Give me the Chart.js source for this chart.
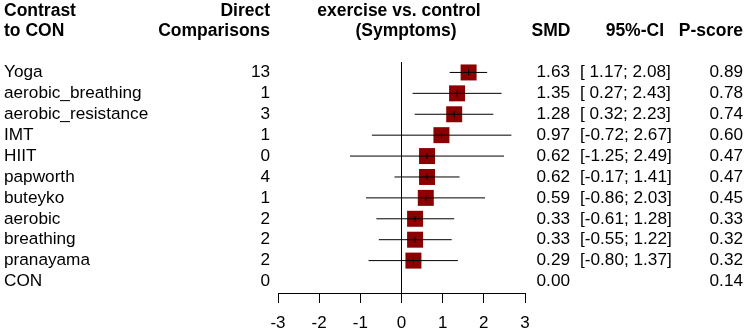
<!DOCTYPE html>
<html>
<head>
<meta charset="utf-8">
<script src="https://cdn.jsdelivr.net/npm/chart.js@4/dist/chart.umd.min.js"></script>
<style>
  html, body { margin: 0; padding: 0; background: #fff; }
  #wrap { width: 750px; height: 335px; }
</style>
</head>
<body>
<div id="wrap"><canvas id="forest"></canvas></div>
<script>
// rows of the forest plot, top to bottom
const treatments = ['Yoga', 'aerobic_breathing', 'aerobic_resistance', 'IMT', 'HIIT',
  'papworth', 'buteyko', 'aerobic', 'breathing', 'pranayama', 'CON'];
const directComparisons = [13, 1, 3, 1, 0, 4, 1, 2, 2, 2, 0];
const smd = [1.63, 1.35, 1.28, 0.97, 0.62, 0.62, 0.59, 0.33, 0.33, 0.29, 0.00];
const lower = [1.17, 0.27, 0.32, -0.72, -1.25, -0.17, -0.86, -0.61, -0.55, -0.80, null];
const upper = [2.08, 2.43, 2.23, 2.67, 2.49, 1.41, 2.03, 1.28, 1.22, 1.37, null];
const pScore = [0.89, 0.78, 0.74, 0.60, 0.47, 0.47, 0.45, 0.33, 0.32, 0.32, 0.14];
const xTicks = [-3, -2, -1, 0, 1, 2, 3];

const FONT = '"Liberation Sans", Arial, sans-serif';
const ROW_MIN = -0.5;
const ROW_MAX = 10.55;

// one line dataset per confidence interval
let ciSets = [];
treatments.forEach((t, i) => {
  if (lower[i] === null) return;
  ciSets.push({
    type: 'line',
    data: [{x: lower[i], y: i}, {x: upper[i], y: i}],
    borderColor: '#000',
    borderWidth: 1,
    pointRadius: 0,
    showLine: true
  });
});

// small vertical tick at each estimate
const tickSet = {
  data: treatments.map((t, i) => ({x: smd[i], y: i})).filter((p, i) => lower[i] !== null),
  pointStyle: 'line',
  rotation: 90,
  radius: 3,
  borderColor: '#000',
  borderWidth: 1,
  showLine: false
};

// squares
const squareSet = {
  data: treatments.map((t, i) => ({x: smd[i], y: i})).filter((p, i) => lower[i] !== null),
  pointStyle: 'rect',
  radius: 11.3,
  backgroundColor: '#8b0000',
  borderColor: '#8b0000',
  borderWidth: 0,
  showLine: false
};

// line of no effect
const zeroSet = {
  type: 'line',
  data: [{x: 0, y: ROW_MIN}, {x: 0, y: ROW_MAX}],
  borderColor: '#000',
  borderWidth: 1,
  pointRadius: 0,
  showLine: true
};

function ciText(i) {
  if (lower[i] === null) return '';
  let lo = lower[i] >= 0 ? ' ' + lower[i].toFixed(2) : lower[i].toFixed(2);
  return '[' + lo + '; ' + upper[i].toFixed(2) + ']';
}

//texts of the table around the plot
const tablePlugin = {
  id: 'tableText',
  afterDraw(chart) {
    const ctx = chart.ctx;
    const yScale = chart.scales.y;
    ctx.save();
    ctx.fillStyle = '#000';
    ctx.textBaseline = 'middle';

    // header
    ctx.font = 'bold 17.5px ' + FONT;
    ctx.textAlign = 'left';
    ctx.fillText('Contrast', 4, 11);
    ctx.fillText('to CON', 4, 31);
    ctx.textAlign = 'right';
    ctx.fillText('Direct', 270, 11);
    ctx.fillText('Comparisons', 270, 31);
    ctx.textAlign = 'center';
    ctx.fillText('exercise vs. control', 399, 11);
    ctx.fillText('(Symptoms)', 406, 31);
    ctx.fillText('SMD', 551, 31);
    ctx.textAlign = 'right';
    ctx.fillText('95%-CI', 664, 31);
    ctx.fillText('P-score', 743, 31);

    // rows
    ctx.font = '17.2px ' + FONT;
    treatments.forEach((t, i) => {
      const y = yScale.getPixelForValue(i);
      ctx.textAlign = 'left';
      ctx.fillText(t, 4, y);
      ctx.textAlign = 'right';
      ctx.fillText(String(directComparisons[i]), 270, y);
      ctx.fillText(smd[i].toFixed(2), 570, y);
      ctx.textAlign = 'left';
      ctx.fillText(ciText(i), 580, y);
      ctx.textAlign = 'right';
      ctx.fillText(pScore[i].toFixed(2), 743, y);
    });
    ctx.restore();
  }
};

const chart = new Chart(document.getElementById('forest'), {
  type: 'scatter',
  data: {
    datasets: [...ciSets, tickSet, squareSet, zeroSet]
  },
  options: {
    responsive: true,
    maintainAspectRatio: false,
    animation: false,
    events: [],
    layout: {
      padding: {left: 278, right: 225, top: 62, bottom: 2}
    },
    plugins: {
      legend: {display: false},
      tooltip: {enabled: false}
    },
    scales: {
      x: {
        type: 'linear',
        min: -3,
        max: 3,
        afterBuildTicks: axis => {
          axis.ticks = xTicks.map(v => ({value: v}));
        },
        afterFit: axis => {
          axis.height = 40;
        },
        grid: {
          display: true,
          drawOnChartArea: false,
          drawTicks: true,
          tickLength: 10,
          color: '#000',
          lineWidth: 1
        },
        border: {display: true, color: '#000', width: 1},
        ticks: {
          color: '#000',
          padding: 10,
          font: {family: FONT, size: 17},
          maxRotation: 0
        }
      },
      y: {
        type: 'linear',
        reverse: true,
        min: ROW_MIN,
        max: ROW_MAX,
        display: false
      }
    }
  },
  plugins: [tablePlugin]
});
</script>
</body>
</html>
